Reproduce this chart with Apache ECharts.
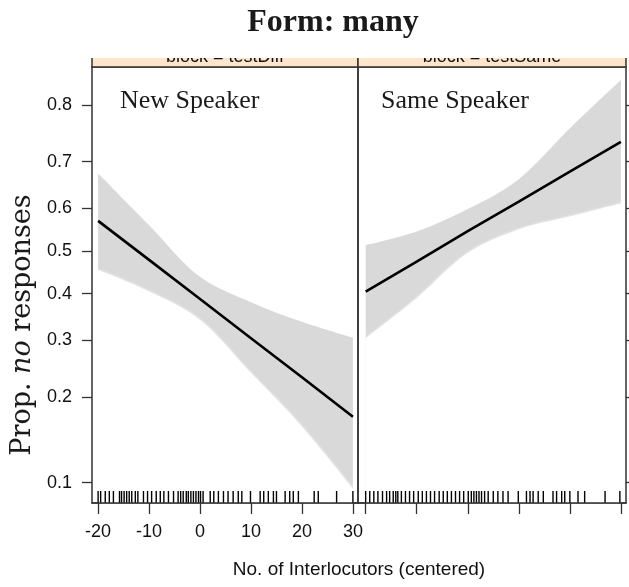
<!DOCTYPE html>
<html>
<head>
<meta charset="utf-8">
<title>Form: many</title>
<script src="https://cdn.jsdelivr.net/npm/echarts@6.0.0/dist/echarts.min.js"></script>
<style>
  html, body { margin: 0; padding: 0; background: #fff; }
  #chart { width: 629px; height: 587px; }
</style>
</head>
<body>
<div id="chart"></div>
<script>
var xPts = [-20, -10, 0, 10, 20, 30];

// New Speaker panel (probabilities)
var newFit = [0.571, 0.479, 0.388, 0.304, 0.232, 0.172];
var newLower = [0.455, 0.405, 0.342, 0.239, 0.159, 0.095];
var newUpper = [0.676, 0.561, 0.439, 0.381, 0.338, 0.305];

// Same Speaker panel (probabilities)
var sameFit = [0.405, 0.475, 0.547, 0.615, 0.680, 0.738];
var sameLower = [0.304, 0.390, 0.495, 0.551, 0.581, 0.611];
var sameUpper = [0.514, 0.546, 0.598, 0.664, 0.762, 0.835];

// rug of observed x values
var rugNew = [-20, -19.5, -18.6, -17.8, -17, -15.8, -15.4, -14.9, -14.4, -13.9, -13.4, -12.7, -12.2,
  -11.1, -10.3, -9.5, -8.6, -7.8, -7.1, -6.2, -5.2, -4.3, -3.8, -3.3, -2.7, -2.3, -1.8, -1.3,
  -0.8, -0.3, 0.1, 0.6, 2, 2.7, 3.6, 4.6, 5.5, 6.5, 7.5, 8.2, 9.9, 11.8, 12.5, 13.4, 14.4, 15,
  16.7, 17.6, 18.3, 19.3, 22.4, 23.2, 26.8, 30];
var rugSame = [-20, -19.2, -18.4, -17.6, -16.7, -15.9, -15.3, -14.6, -14.1, -13.7, -13, -12.2,
  -11.4, -10.6, -9.7, -8.9, -8.1, -7.3, -6.5, -5.6, -4.8, -4, -3.2, -2.4, -1.6, -0.8, 0.1, 0.7,
  1.2, 1.7, 2.2, 2.7, 3.3, 4, 5, 5.9, 6.9, 7.9, 9.9, 11.5, 12.2, 12.8, 13.8, 14.8, 16.7, 17.4,
  18.4, 19, 20, 21.6, 22.9, 26.9, 29.8];

// tick labels
var xTicks = [-20, -10, 0, 10, 20, 30];
var yTicks = [0.1, 0.2, 0.3, 0.4, 0.5, 0.6, 0.7, 0.8];

function logit(p) { return Math.log(p / (1 - p)); }
function expit(v) { return 1 / (1 + Math.exp(-v)); }

var yMin = -2.39;
var yMax = 1.745;
var yTickVals = yTicks.map(logit);

var frameColor = '#333';
var tickFont = "'Liberation Sans Narrow', 'Liberation Sans', Arial, sans-serif";

var chart = echarts.init(document.getElementById('chart'), null, { renderer: 'canvas' });

// band: grey area under the upper edge, then white area under the lower edge on top of it
function bandSeries(idx, lower, upper) {
  return [
    {
      type: 'line',
      xAxisIndex: idx,
      yAxisIndex: idx,
      smooth: 0.35,
      showSymbol: false,
      silent: true,
      z: 1,
      lineStyle: { opacity: 0 },
      areaStyle: { color: '#d9d9d9', opacity: 1, origin: 'start' },
      data: xPts.map(function (x, i) { return [x, logit(upper[i])]; })
    },
    {
      type: 'line',
      xAxisIndex: idx,
      yAxisIndex: idx,
      smooth: 0.35,
      showSymbol: false,
      silent: true,
      z: 1,
      lineStyle: { opacity: 0 },
      // white halo hides the anti-aliased grey seam at the band ends
      areaStyle: { color: '#fff', opacity: 1, origin: 'start', shadowColor: '#fff', shadowBlur: 3 },
      data: xPts.map(function (x, i) { return [x, logit(lower[i])]; })
    }
  ];
}

function fitSeries(idx, fit) {
  return {
    type: 'line',
    xAxisIndex: idx,
    yAxisIndex: idx,
    showSymbol: false,
    silent: true,
    lineStyle: { color: '#000', width: 2.6 },
    data: xPts.map(function (x, i) { return [x, logit(fit[i])]; }),
    z: 3
  };
}

function rugSeries(idx, rug) {
  return {
    type: 'custom',
    xAxisIndex: idx,
    yAxisIndex: idx,
    silent: true,
    z: 4,
    data: rug.map(function (v) { return [v, yMin]; }),
    renderItem: function (params, api) {
      var p = api.coord([api.value(0), api.value(1)]);
      return {
        type: 'line',
        shape: { x1: p[0], y1: p[1], x2: p[0], y2: p[1] - 12 },
        style: { stroke: '#000', lineWidth: 1.4 }
      };
    }
  };
}

function xAxisOpt(idx, min, showLabel) {
  return {
    gridIndex: idx,
    type: 'value',
    min: min,
    max: 31,
    z: 5,
    axisLine: { show: true, onZero: false, lineStyle: { color: frameColor, width: 1.5 } },
    splitLine: { show: false },
    axisTick: {
      show: true, length: 11, customValues: xTicks,
      lineStyle: { color: frameColor, width: 1.3 }
    },
    axisLabel: {
      show: showLabel, customValues: xTicks, margin: 20,
      fontFamily: tickFont, fontSize: 18, color: '#111'
    }
  };
}

var option = {
  animation: false,
  backgroundColor: '#fff',
  grid: [
    { left: 92, top: 67, width: 266, height: 436, show: true, borderColor: frameColor, borderWidth: 1.5 },
    { left: 358, top: 67, width: 268, height: 436, show: true, borderColor: frameColor, borderWidth: 1.5 }
  ],
  xAxis: [
    xAxisOpt(0, -21.2, true),
    xAxisOpt(1, -21.5, false)
  ],
  yAxis: [
    {
      gridIndex: 0,
      type: 'value',
      position: 'left',
      min: yMin,
      max: yMax,
      axisLine: { show: false, onZero: false },
      splitLine: { show: false },
      axisTick: {
        show: true, length: 10, customValues: yTickVals,
        lineStyle: { color: frameColor, width: 1.3 }
      },
      axisLabel: {
        customValues: yTickVals, margin: 20,
        fontFamily: tickFont, fontSize: 18, color: '#111',
        formatter: function (v) { return expit(v).toFixed(1); }
      }
    },
    {
      gridIndex: 1,
      type: 'value',
      position: 'right',
      min: yMin,
      max: yMax,
      axisLine: { show: false, onZero: false },
      splitLine: { show: false },
      axisTick: {
        show: true, length: 6, customValues: yTickVals,
        lineStyle: { color: frameColor, width: 1.3 }
      },
      axisLabel: { show: false }
    }
  ],
  series: []
    .concat(bandSeries(0, newLower, newUpper))
    .concat(bandSeries(1, sameLower, sameUpper))
    .concat([fitSeries(0, newFit), fitSeries(1, sameFit), rugSeries(0, rugNew), rugSeries(1, rugSame)]),
  graphic: [
    // strips (top part is cropped in the original)
    { type: 'rect', z: 10, shape: { x: 92, y: 52, width: 266, height: 15 }, style: { fill: '#ffe5cc', stroke: frameColor, lineWidth: 1.5 } },
    { type: 'rect', z: 10, shape: { x: 358, y: 52, width: 268, height: 15 }, style: { fill: '#ffe5cc', stroke: frameColor, lineWidth: 1.5 } },
    { type: 'text', z: 11, style: { x: 225, y: 57, text: 'block = testDiff', textAlign: 'center', textVerticalAlign: 'middle', font: "18px 'Liberation Sans', Arial, sans-serif", fill: '#111' } },
    { type: 'text', z: 11, style: { x: 492, y: 57, text: 'block = testSame', textAlign: 'center', textVerticalAlign: 'middle', font: "18px 'Liberation Sans', Arial, sans-serif", fill: '#111' } },
    { type: 'rect', z: 12, shape: { x: 0, y: 0, width: 629, height: 58 }, style: { fill: '#fff' } },
    {
      type: 'text', z: 13,
      style: { x: 333, y: 23, text: 'Form: many', textAlign: 'center', textVerticalAlign: 'middle', font: "bold 32px 'Liberation Serif', 'Times New Roman', serif", fill: '#1a1a1a' }
    },
    {
      type: 'text', z: 20,
      style: { x: 120, y: 101, text: 'New Speaker', textAlign: 'left', textVerticalAlign: 'middle', font: "26px 'Liberation Serif', 'Times New Roman', serif", fill: '#1a1a1a' }
    },
    {
      type: 'text', z: 20,
      style: { x: 381, y: 101, text: 'Same Speaker', textAlign: 'left', textVerticalAlign: 'middle', font: "26px 'Liberation Serif', 'Times New Roman', serif", fill: '#1a1a1a' }
    },
    {
      type: 'text', z: 20,
      x: 23, y: 325, rotation: Math.PI / 2,
      style: {
        text: '{a|Prop. }{b|no}{a| responses}',
        textAlign: 'center', textVerticalAlign: 'middle',
        rich: {
          a: { fontFamily: "'DejaVu Serif', serif", fontSize: 27, fill: '#1a1a1a' },
          b: { fontFamily: "'DejaVu Serif', serif", fontSize: 27, fontStyle: 'italic', fill: '#1a1a1a' }
        }
      }
    },
    {
      type: 'text', z: 20,
      style: { x: 359, y: 570, text: 'No. of Interlocutors (centered)', textAlign: 'center', textVerticalAlign: 'middle', font: "19px 'Liberation Sans', Arial, sans-serif", fill: '#111' }
    }
  ]
};

chart.setOption(option);
</script>
</body>
</html>
